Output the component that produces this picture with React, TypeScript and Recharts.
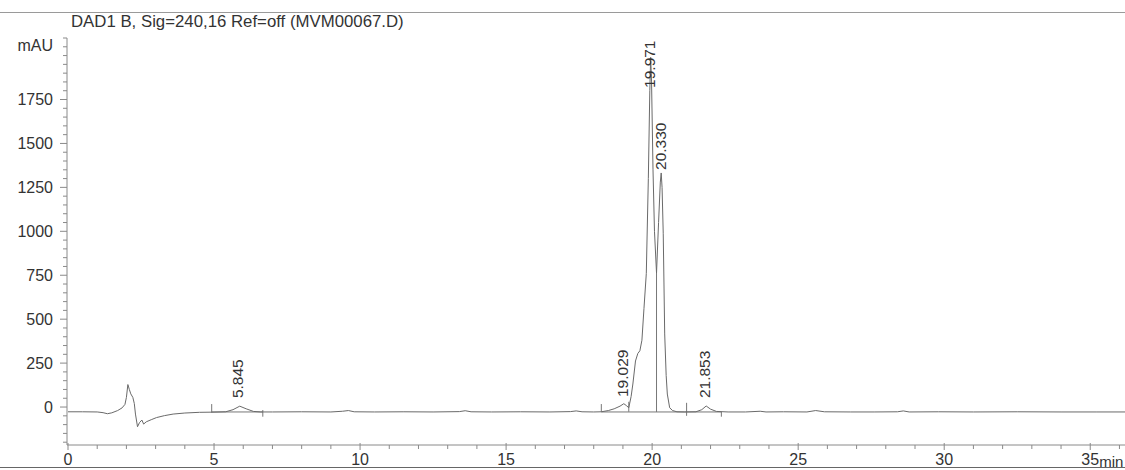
import React from 'react';
import { LineChart, Line, XAxis, YAxis, ReferenceLine, ReferenceDot } from 'recharts';

const titleText = 'DAD1 B, Sig=240,16 Ref=off (MVM00067.D)';
const yUnit = 'mAU';
const xUnit = 'min';

const times = [
  0, 0.5, 1.0, 1.2, 1.35, 1.5, 1.7, 1.85, 1.95, 2.0, 2.05, 2.1, 2.15, 2.22, 2.27, 2.31, 2.38, 2.45, 2.53, 2.59,
  2.68, 2.85, 3.03, 3.3, 3.6, 4.0, 4.5, 5.0, 5.4, 5.65, 5.88, 6.1, 6.35, 6.6, 7.0, 8.0, 9.0, 9.4, 9.6, 9.8,
  10.5, 11.5, 12.5, 13.4, 13.6, 13.8, 14.5, 15.5, 16.5, 17.2, 17.4, 17.6, 18.0, 18.26, 18.5, 18.7, 18.9, 19.03, 19.12, 19.2,
  19.28, 19.34, 19.43, 19.51, 19.58, 19.65, 19.72, 19.8, 19.87, 19.92, 19.95, 19.98, 20.03, 20.08, 20.15, 20.22, 20.28, 20.31, 20.34, 20.38,
  20.43, 20.48, 20.52, 20.6, 20.7, 20.85, 21.1, 21.5, 21.7, 21.85, 22.0, 22.2, 22.6, 23.2, 23.7, 23.9, 24.5, 25.3, 25.6, 25.9,
  26.8, 27.6, 28.4, 28.6, 28.8, 29.8, 31.0, 32.5, 34.0, 35.2, 36.19,
];

const signal = [
  -27, -27, -28, -32, -38, -33, -20, -5, 15, 55, 128, 100, 75, 55, 20, -40, -112, -88, -74, -97,
  -84, -72, -60, -49, -40, -34, -30, -29, -27, -15, 5, -10, -25, -28, -28, -27, -28, -24, -20, -27,
  -28, -27, -28, -26, -21, -27, -28, -27, -28, -26, -22, -27, -28, -27, -20, -10, 5, 19, 8, -4,
  60, 131, 262, 305, 320, 380, 560, 760, 1300, 1800, 1990, 1850, 1350, 1000, 763, 1050, 1280, 1332, 1250, 986,
  416, 180, 74, -4, -20, -27, -28, -27, -15, 6, -12, -25, -28, -28, -24, -28, -27, -28, -20, -27,
  -28, -28, -27, -22, -28, -27, -28, -27, -28, -28, -28,
];

// peak annotations
const peakTimes = [5.845, 19.029, 19.971, 20.33, 21.853];
const peakLabels = ['5.845', '19.029', '19.971', '20.330', '21.853'];
const peakLabelLevels = [51, 57, 1816, 1349, 51];

// integration baseline segments
const baselineStarts = [4.92, 18.26];
const baselineEnds = [6.67, 22.37];
const baselineLevel = -28;

// integration event marks: time, low, high (mAU)
const markTimes = [4.92, 6.67, 18.26, 19.2, 20.15, 21.18, 22.37];
const markLows = [-32, -55, -28, -27, -28, -50, -55];
const markHighs = [17, -17, 17, 30, 763, 24, -27];

const xTicks = Array.from({ length: 37 }, (_, i) => i);
const yTicks = Array.from({ length: 47 }, (_, i) => -200 + i * 50);
const yLabelled = [0, 250, 500, 750, 1000, 1250, 1500, 1750];

const data = times.map((t, i) => ({ t, v: signal[i] }));

const FONT = '"Liberation Sans", Arial, Helvetica, sans-serif';
const TEXT = '#333';
const AXIS = '#8a8a8a';

const YTick = (props: any) => {
  const { x, y, payload } = props;
  const v = payload.value;
  const major = yLabelled.includes(v);
  return (
    <g>
      <line x1={x - (major ? 7 : 4)} x2={x} y1={y} y2={y} stroke={AXIS} strokeWidth={1} />
      {major && (
        <text x={x - 14} y={y} dy="0.35em" textAnchor="end" fontFamily={FONT} fontSize={16} fill={TEXT}>
          {v}
        </text>
      )}
    </g>
  );
};

const XTick = (props: any) => {
  const { x, y, payload } = props;
  const v = payload.value;
  const major = v % 5 === 0;
  return (
    <g>
      <line x1={x} x2={x} y1={major ? y - 2 : y} y2={major ? y + 5 : y + 4} stroke={AXIS} strokeWidth={1} />
      {major && (
        <text x={x} y={y + 20} textAnchor="middle" fontFamily={FONT} fontSize={16} fill={TEXT}>
          {v}
        </text>
      )}
      {major && v === 35 && (
        <text x={x + 9} y={y + 22} textAnchor="start" fontFamily={FONT} fontSize={15} fill={TEXT}>
          {xUnit}
        </text>
      )}
    </g>
  );
};

const makeLabelShape = (text: string) => (p: any) => {
  const bx = p.cx + 4;
  const by = p.cy;
  return (
    <text
      x={bx}
      y={by}
      transform={`rotate(-90 ${bx} ${by})`}
      textAnchor="start"
      fontFamily={FONT}
      fontSize={15.5}
      fill={TEXT}
    >
      {text}
    </text>
  );
};

export default function App() {
  return (
    <div style={{ position: 'absolute', left: 0, top: 0, width: 1125, height: 470, background: '#fff', overflow: 'hidden' }}>
      <div style={{ position: 'absolute', left: 0, top: 0 }}>
        <LineChart width={1125} height={470} data={data} margin={{ top: 38, right: 0, bottom: 0, left: 0 }}>
          <XAxis
            type="number"
            dataKey="t"
            domain={[0, 36.19]}
            ticks={xTicks}
            interval={0}
            height={25}
            padding={{ left: 1, right: 0 }}
            tickSize={0}
            tickMargin={0}
            tickLine={false}
            axisLine={{ stroke: AXIS }}
            tick={XTick}
            allowDataOverflow
          />
          <YAxis
            type="number"
            domain={[-216, 2100]}
            ticks={yTicks}
            interval={0}
            width={67}
            tickSize={0}
            tickMargin={0}
            tickLine={false}
            axisLine={{ stroke: AXIS }}
            tick={YTick}
            allowDataOverflow
          />
          {baselineStarts.map((s, i) => (
            <ReferenceLine
              key={'b' + i}
              segment={[
                { x: s, y: baselineLevel },
                { x: baselineEnds[i], y: baselineLevel },
              ]}
              stroke="#777"
              strokeWidth={1}
              ifOverflow="visible"
            />
          ))}
          {markTimes.map((t, i) => (
            <ReferenceLine
              key={'m' + i}
              segment={[
                { x: t, y: markLows[i] },
                { x: t, y: markHighs[i] },
              ]}
              stroke="#777"
              strokeWidth={1}
              ifOverflow="visible"
            />
          ))}
          <Line
            type="linear"
            dataKey="v"
            stroke="#6a6a6a"
            strokeWidth={1}
            dot={false}
            activeDot={false}
            isAnimationActive={false}
          />
          {peakTimes.map((t, i) => (
            <ReferenceDot
              key={'p' + i}
              x={t}
              y={peakLabelLevels[i]}
              r={0}
              ifOverflow="visible"
              shape={makeLabelShape(peakLabels[i])}
            />
          ))}
        </LineChart>
      </div>
      <svg width={1125} height={470} style={{ position: 'absolute', left: 0, top: 0, pointerEvents: 'none' }}>
        <line x1={0} x2={1125} y1={12.5} y2={12.5} stroke="#9a9a9a" strokeWidth={1} />
        <line x1={0} x2={1125} y1={467.5} y2={467.5} stroke="#666" strokeWidth={1} />
        <text x={71} y={27} fontFamily={FONT} fontSize={16.8} fill={TEXT}>
          {titleText}
        </text>
        <text x={53} y={51} textAnchor="end" fontFamily={FONT} fontSize={16} fill={TEXT}>
          {yUnit}
        </text>
      </svg>
    </div>
  );
}
